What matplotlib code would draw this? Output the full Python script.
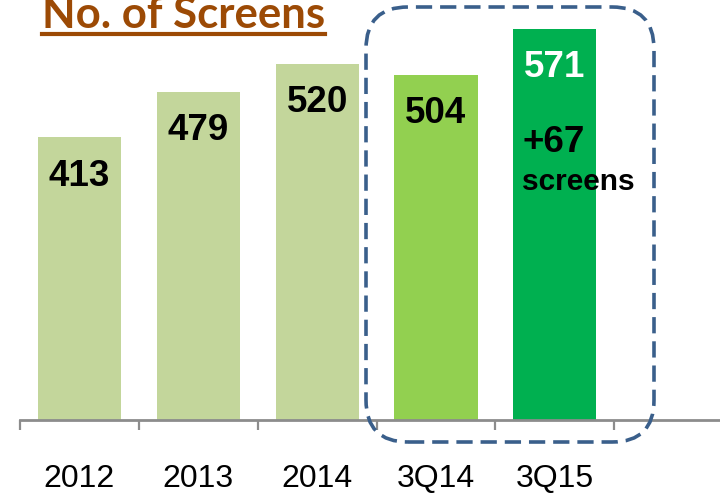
import matplotlib
matplotlib.use("Agg")
import matplotlib.pyplot as plt
from matplotlib.patches import FancyBboxPatch
from matplotlib.transforms import Affine2D

# data
categories = ["2012", "2013", "2014", "3Q14", "3Q15"]
screens = [413, 479, 520, 504, 571]
bar_colors = ["#C3D69B", "#C3D69B", "#C3D69B", "#92D050", "#00B050"]
label_colors = ["black", "black", "black", "black", "white"]
growth_text = "+67"
growth_unit = "screens"

W, H = 720, 502
fig = plt.figure(figsize=(W / 100, H / 100), dpi=100)
ax = fig.add_axes([20 / W, 81 / H, 700 / W, 421 / H])

x = list(range(len(categories)))
ax.bar(x, screens, width=0.70, color=bar_colors, zorder=2)
ax.set_xlim(-0.49, 5.39)
ax.set_ylim(0, 614.6)

for s in ["top", "right", "left"]:
    ax.spines[s].set_visible(False)
ax.spines["bottom"].set_color("#8C8C8C")
ax.spines["bottom"].set_linewidth(2)
ax.set_yticks([])

# labels at bar centres, tick marks between categories
ax.set_xticks(x)
ax.set_xticklabels(categories, fontsize=23, family="Liberation Sans")
ax.tick_params(axis="x", which="major", length=0, pad=31)
ax.set_xticks([i - 0.5 for i in range(len(categories) + 1)], minor=True)
ax.tick_params(axis="x", which="minor", length=7.5, width=1.6, color="#8C8C8C")

for i, v in enumerate(screens):
    ax.annotate(str(v), (i, v), xytext=(0, -38), textcoords="offset pixels",
                ha="center", va="center", fontsize=26.5, fontweight="bold",
                family="Liberation Sans", color=label_colors[i])

last = len(screens) - 1
ax.annotate(growth_text, (last - 0.35, screens[last]), xytext=(9, -113),
            textcoords="offset pixels", ha="left", va="center", fontsize=26.5,
            fontweight="bold", family="Liberation Sans", color="black")
ax.annotate(growth_unit, (last - 0.35, screens[last]), xytext=(9, -160),
            textcoords="offset pixels", ha="left", va="baseline", fontsize=21.5,
            fontweight="bold", family="Liberation Sans", color="black")

# dashed highlight box, in figure pixels
px = Affine2D().scale(1 / W, 1 / H) + fig.transFigure
box = FancyBboxPatch((366, 59), 288, 435, boxstyle="round,pad=0,rounding_size=42",
                     transform=px, fill=False, edgecolor="#3A5F8B", linewidth=2.6,
                     linestyle=(0, (4.5, 2.2)), zorder=5)
fig.patches.append(box)

# title with underline
title = fig.text(42 / W, (H - 28) / H, "No. of Screens", fontsize=31.5, fontweight="bold",
                 family="Lato", color="#9C4A05", ha="left", va="baseline")
fig.canvas.draw()
bb = title.get_window_extent()
fig.add_artist(plt.Line2D([bb.x0 / W, bb.x1 / W], [(H - 35) / H, (H - 35) / H],
                          transform=fig.transFigure, color="#9C4A05", linewidth=3))

fig.savefig("out.png", dpi=100)
